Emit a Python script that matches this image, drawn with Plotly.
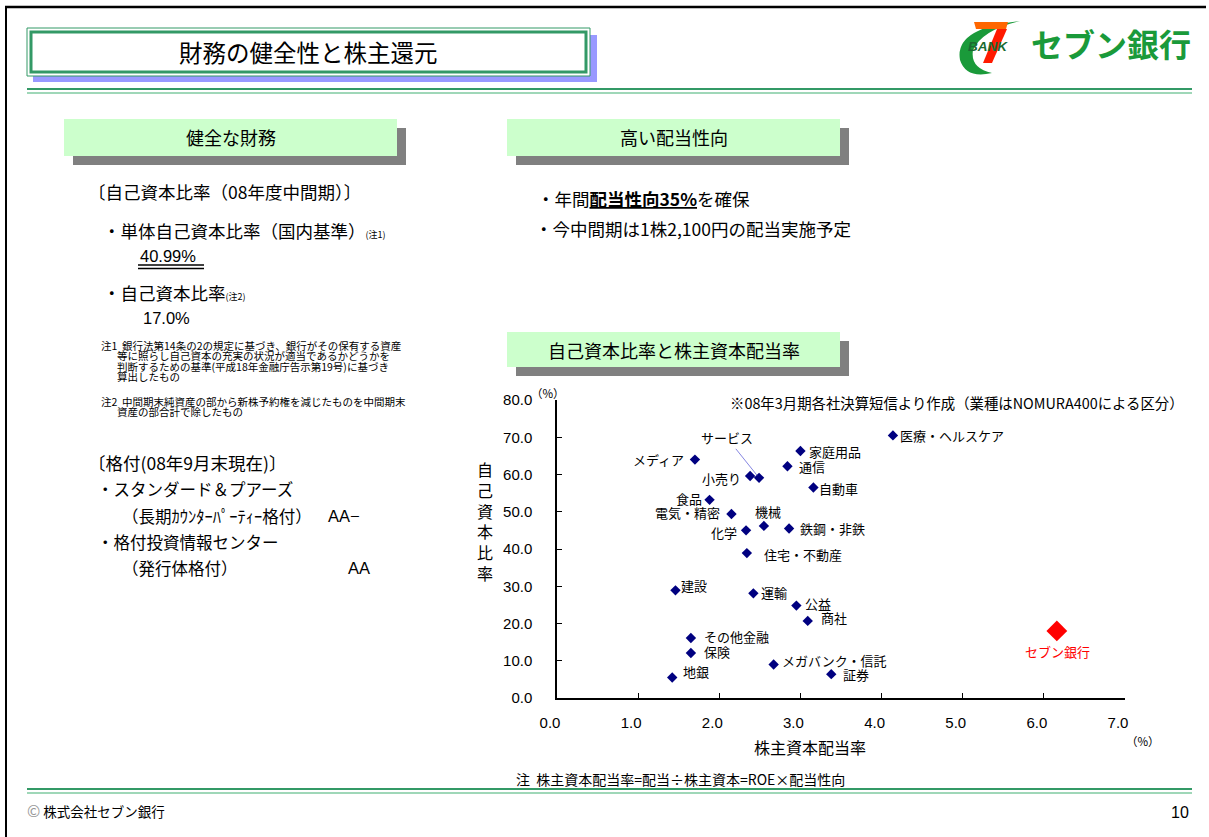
import plotly.graph_objects as go

W, H = 1209, 837

# ---------------- data ----------------
industries = ["医療・ヘルスケア", "家庭用品", "メディア", "通信", "小売り", "サービス", "自動車",
              "食品", "電気・精密", "機械", "鉄鋼・非鉄", "化学", "住宅・不動産", "建設", "運輸",
              "公益", "商社", "その他金融", "保険", "メガバンク・信託", "証券", "地銀"]
payout_on_equity = [4.14, 3.00, 1.70, 2.84, 2.38, 2.49, 3.16, 1.88, 2.15, 2.55, 2.86, 2.33,
                    2.34, 1.46, 2.42, 2.95, 3.09, 1.65, 1.65, 2.67, 3.38, 1.42]
capital_ratio = [70.5, 66.3, 64.0, 62.2, 59.6, 59.1, 56.5, 53.2, 49.4, 46.2, 45.5, 45.0,
                 38.9, 28.9, 28.1, 24.8, 20.7, 16.1, 12.1, 9.0, 6.4, 5.5]
bank_name = ["セブン銀行"]
bank_payout = [6.16]
bank_ratio = [18.0]
x_ticks = [0, 1, 2, 3, 4, 5, 6, 7]
y_ticks = [0, 10, 20, 30, 40, 50, 60, 70, 80]

# label placement (pixel offsets from marker: dx, dy(down), anchor)
label_style = {
    "医療・ヘルスケア": (5, 0, "left"), "家庭用品": (7, 0, "left"), "メディア": (-9, 0, "right"),
    "通信": (10, 0, "left"), "小売り": (-7, 3, "right"), "自動車": (4, 1, "left"),
    "食品": (-6, -1, "right"), "電気・精密": (-9, -1, "right"), "機械": (4, -14, "center"),
    "鉄鋼・非鉄": (9, 0, "left"), "化学": (-7, 2, "right"), "住宅・不動産": (15, 1, "left"),
    "建設": (4, -5, "left"), "運輸": (6, -1, "left"), "公益": (7, -2, "left"),
    "商社": (11, -3, "left"), "その他金融": (11, -2, "left"), "保険": (11, -1, "left"),
    "メガバンク・信託": (6, -4, "left"), "証券": (10, 0, "left"), "地銀": (9, -6, "left"),
}

CJK = "Noto Sans CJK JP"
LAT = "Liberation Sans, Noto Sans CJK JP"
GREEN = "#339966"
LGREEN = "#7fcaa0"


def X(px):
    return px / W


def Y(py):
    return 1 - py / H


fig = go.Figure()

fig.add_trace(go.Scatter(
    x=payout_on_equity, y=capital_ratio, mode="markers",
    marker=dict(symbol="diamond", size=8, color="#000080"),
    hoverinfo="text", text=industries, showlegend=False, cliponaxis=False))
fig.add_trace(go.Scatter(
    x=bank_payout, y=bank_ratio, mode="markers",
    marker=dict(symbol="diamond", size=16, color="#ff0000"),
    hoverinfo="text", text=bank_name, showlegend=False, cliponaxis=False))

ann = []
for name, xv, yv in zip(industries, payout_on_equity, capital_ratio):
    if name == "サービス":
        ann.append(dict(x=xv, y=yv, xref="x", yref="y", text=name, showarrow=True,
                        ax=-32, ay=-40, arrowhead=0, arrowwidth=0.6, arrowcolor="#3333cc",
                        standoff=3, font=dict(family=CJK, size=13, color="black")))
        continue
    dx, dy, anc = label_style[name]
    ann.append(dict(x=xv, y=yv, xref="x", yref="y", text=name, showarrow=False,
                    xanchor=anc, yanchor="middle", xshift=dx, yshift=-dy,
                    font=dict(family=CJK, size=13, color="black")))
for name, xv, yv in zip(bank_name, bank_payout, bank_ratio):
    ann.append(dict(x=xv, y=yv, xref="x", yref="y", text=name, showarrow=False,
                    xanchor="center", yanchor="middle", xshift=1, yshift=-21,
                    font=dict(family=CJK, size=13, color="#ff0000")))


def txt(px, py, s, size=16, anchor="left", color="black", family=CJK, yanchor="middle"):
    ann.append(dict(x=X(px), y=Y(py), xref="paper", yref="paper", text=s, showarrow=False,
                    xanchor=anchor, yanchor=yanchor, borderpad=0,
                    font=dict(family=family, size=size, color=color)))


shapes = []


def rect(x0, y0, x1, y1, fill=None, line=None, lw=0):
    shapes.append(dict(type="rect", xref="paper", yref="paper", x0=X(x0), y0=Y(y1), x1=X(x1), y1=Y(y0),
                       fillcolor=fill if fill else "rgba(0,0,0,0)",
                       line=dict(color=line if line else "rgba(0,0,0,0)", width=lw), layer="below"))


def hline(x0, x1, y, color, lw=1):
    shapes.append(dict(type="line", xref="paper", yref="paper", x0=X(x0), x1=X(x1), y0=Y(y), y1=Y(y),
                       line=dict(color=color, width=lw)))


def vline(x, y0, y1, color, lw=1):
    shapes.append(dict(type="line", xref="paper", yref="paper", x0=X(x), x1=X(x), y0=Y(y0), y1=Y(y1),
                       line=dict(color=color, width=lw)))


def path(points, fill, close=True):
    d = ""
    for i, p in enumerate(points):
        if p[0] == "Q":
            d += f" Q {X(p[1])},{Y(p[2])} {X(p[3])},{Y(p[4])}"
        else:
            d += (" M " if i == 0 else " L ") + f"{X(p[0])},{Y(p[1])}"
    if close:
        d += " Z"
    shapes.append(dict(type="path", xref="paper", yref="paper", path=d, fillcolor=fill,
                       line=dict(width=0)))


# slide frame
hline(5, 1206, 7, "black", 2.5)
vline(6, 6, 837, "black", 2)

# title box
rect(33, 35, 597, 82, fill="#9999ff")
rect(27, 28, 590, 76, fill="white", line=GREEN, lw=1)
rect(31, 32, 586, 72, line=GREEN, lw=3)
txt(308, 52, "財務の健全性と株主還元", size=23.5, anchor="center")

# green double rules
hline(27, 1192, 89, GREEN, 2)
hline(27, 1192, 93, LGREEN, 1.5)
hline(27, 1192, 789, GREEN, 2)
hline(27, 1192, 793, LGREEN, 1.5)

# logo
path([(1020, 21), ("Q", 954, 28, 960, 60), ("Q", 966, 79, 992, 73),
      ("Q", 970, 68, 973, 50), ("Q", 982, 30, 1020, 21)], "#1a9a3a")
path([(974, 22), (1008, 22), (1006, 29), (976, 29)], "#ff6600")
path([(997, 29), (1007, 29), (992, 63), (983, 63)], "#ff1a00")
txt(988, 46, "<b><i>BANK</i></b>", size=13.5, anchor="center", color="#1a6a30", family="Liberation Sans")
txt(1030, 43, "<b>セブン銀行</b>", size=32, color="#1a9a3a")

# section headers
for (x0, y0, x1, y1, label) in [(64, 119, 397, 156, "健全な財務"), (507, 119, 840, 156, "高い配当性向"),
                                (507, 332, 840, 367, "自己資本比率と株主資本配当率")]:
    rect(x0 + 9, y0 + 9, x1 + 9, y1 + 9, fill="#808080")
    rect(x0, y0, x1, y1, fill="#ccffcc")
    txt((x0 + x1) / 2, (y0 + y1) / 2, label, size=18, anchor="center")

# left column
BODY = 17.5
txt(87, 191, "〔自己資本比率（08年度中間期）〕", size=BODY)
txt(102, 230, "・単体自己資本比率（国内基準）<span style='font-size:9px'>(注1)</span>", size=BODY)
txt(139, 256, "40.99%", size=16.5, family=LAT)
hline(138, 204, 265, "black", 1.5)
hline(138, 204, 268.5, "black", 1.5)
txt(102, 292, "・自己資本比率<span style='font-size:9px'>(注2)</span>", size=BODY)
txt(142, 318, "17.0%", size=16.5, family=LAT)
notes = [(100, 345, "注1  銀行法第14条の2の規定に基づき、銀行がその保有する資産"),
         (116, 355.5, "等に照らし自己資本の充実の状況が適当であるかどうかを"),
         (116, 366, "判断するための基準(平成18年金融庁告示第19号)に基づき"),
         (116, 376.5, "算出したもの"),
         (100, 401, "注2  中間期末純資産の部から新株予約権を減じたものを中間期末"),
         (116, 411.5, "資産の部合計で除したもの")]
for nx, ny, ns in notes:
    txt(nx, ny, ns, size=10.5)
txt(87, 462, "〔格付(08年9月末現在)〕", size=BODY)
txt(96, 489, "・スタンダード＆プアーズ", size=16.5)
txt(121, 516, "（長期ｶｳﾝﾀｰﾊﾟｰﾃｨｰ格付）", size=16.5)
txt(327, 516, "AA−", size=16.5, family=LAT)
txt(96, 542, "・格付投資情報センター", size=16.5)
txt(121, 568, "（発行体格付）", size=16.5)
txt(347, 568, "AA", size=16.5, family=LAT)

# middle column
txt(536, 198, "・年間<b><u>配当性向35%</u></b>を確保", size=BODY)
txt(534, 229, "・今中間期は1株2,100円の配当実施予定", size=BODY)

# chart texts
txt(548, 393, "（%）", size=11.5, anchor="center")
txt(729, 403, "※08年3月期各社決算短信より作成（業種はNOMURA400による区分）", size=14.4)
txt(485, 521, "自<br>己<br>資<br>本<br>比<br>率", size=16, anchor="center")
txt(810, 747, "株主資本配当率", size=16, anchor="center")
txt(1143, 741, "（%）", size=11.5, anchor="center")
txt(680, 779, "注  株主資本配当率=配当÷株主資本=ROE×配当性向", size=14, anchor="center")

# footer
txt(26, 810, "<span style='color:#999999;font-size:16px'>©</span> 株式会社セブン銀行", size=13.5)
txt(1190, 812, "10", size=16, anchor="right", family=LAT)

fig.update_layout(
    width=W, height=H, margin=dict(l=0, r=0, t=0, b=0, pad=0, autoexpand=False),
    paper_bgcolor="white", plot_bgcolor="white",
    annotations=ann, shapes=shapes, showlegend=False,
    xaxis=dict(domain=[X(557), X(1125)], range=[0, 7], tickvals=x_ticks,
               ticktext=[f"{v:.1f}" for v in x_ticks], ticks="inside", ticklen=5,
               tickcolor="black", showline=True, linecolor="black", linewidth=1.5,
               showgrid=False, zeroline=False, ticklabelstandoff=10, ticklabelshift=-7,
               automargin=False, tickfont=dict(family=LAT, size=15, color="black")),
    yaxis=dict(domain=[Y(698), Y(400)], range=[0, 80], tickvals=y_ticks,
               ticktext=[f"{v:.1f}" for v in y_ticks], ticks="inside", ticklen=5,
               tickcolor="black", showline=True, linecolor="black", linewidth=1.5,
               showgrid=False, zeroline=False, ticklabelstandoff=20,
               automargin=False, tickfont=dict(family=LAT, size=15, color="black")),
)

fig.write_html("out.html", config={"displayModeBar": False},
               post_script="document.body.style.margin='0px';document.body.style.overflow='hidden';")
